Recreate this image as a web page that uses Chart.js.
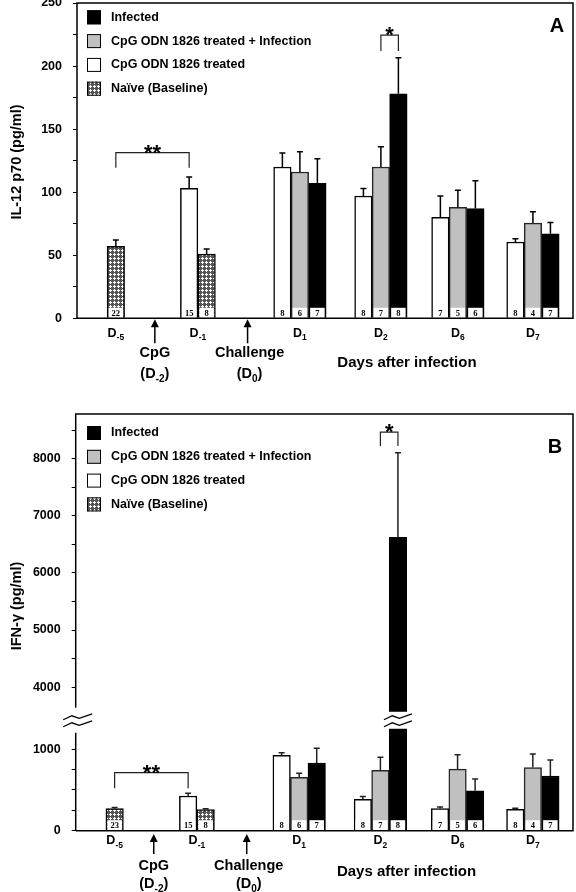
<!DOCTYPE html>
<html lang="en">
<head>
<meta charset="UTF-8">
<title>IL-12 p70 and IFN-gamma after CpG ODN 1826</title>
<script src="https://cdn.jsdelivr.net/npm/chart.js"></script>
<style>
  body { margin: 0; background: #fff; }
  canvas { display: block; }
</style>
</head>
<body>
<canvas id="chartA" width="576" height="400"></canvas>
<canvas id="chartB" width="576" height="492"></canvas>
<script>
// ---- data ----
const days = ['D-5', 'D-1', 'D1', 'D2', 'D6', 'D7'];
const eventNames = ['CpG', 'Challenge'];
const eventDays = ['D-2', 'D0'];

// Panel A: IL-12 p70 (pg/ml), mean, SEM and n per group
const il12Cpg      = [null, 103, 120, 97, 80, 60.5];
const il12CpgErr   = [null, 9, 11, 6, 17, 2.5];
const il12CpgInf   = [null, null, 116, 120, 88, 75.5];
const il12CpgInfErr= [null, null, 16, 16, 13.5, 9];
const il12Inf      = [null, null, 107, 178, 87, 67];
const il12InfErr   = [null, null, 19.5, 28.5, 22, 9];
const il12Naive    = [57, 51, null, null, null, null];
const il12NaiveErr = [5, 4, null, null, null, null];
const il12TickLabels = [0, 50, 100, 150, 200, 250];

// Panel B: IFN-gamma (pg/ml)
const ifnCpg       = [null, 425, 925, 385, 270, 263];
const ifnCpgErr    = [null, 35, 30, 33, 20, 12];
const ifnCpgInf    = [null, null, 655, 740, 755, 775];
const ifnCpgInfErr = [null, null, 50, 160, 175, 165];
const ifnInf       = [null, null, 830, 6620, 490, 670];
const ifnInfErr    = [null, null, 180, 1480, 145, 195];
const ifnNaive     = [270, 258, null, null, null, null];
const ifnNaiveErr  = [15, 12, null, null, null, null];
const ifnTicks = [0, 250, 500, 750, 1000, 4000, 4500, 5000, 5500, 6000, 6500, 7000, 7500, 8000, 8500];
const ifnTickLabels = [0, 1000, 4000, 5000, 6000, 7000, 8000];

// group sizes (n)
const nCpg    = [null, 15, 8, 8, 7, 8];
const nCpgInf = [null, null, 6, 7, 5, 4];
const nInf    = [null, null, 7, 8, 6, 7];
const nNaiveA = [22, 8, null, null, null, null];
const nNaiveB = [23, 8, null, null, null, null];

// ---- layout ----
const FONT = 'Arial, "Liberation Sans", Helvetica, sans-serif';
const SERIF = '"Times New Roman", "Liberation Serif", serif';
const X_MAX = 28.35;              // x axis in bar widths
const slot = { 'D-5': 2.22, 'D-2': 4.45, 'D-1': 6.91, 'D0': 9.75, 'D1': 12.74, 'D2': 17.37, 'D6': 21.77, 'D7': 26.06 };
const DAYS_TITLE_X = 18.86;
const BRK = { lowMax: 1200, highMin: 3640, max: 8780, gap: 25, lowFrac: 0.25 };

const names = {
  inf: 'Infected',
  cpgInf: 'CpG ODN 1826 treated + Infection',
  cpg: 'CpG ODN 1826 treated',
  naive: 'Naïve (Baseline)'
};
const order = ['cpg', 'cpgInf', 'inf', 'naive'];
const legendOrder = ['inf', 'cpgInf', 'cpg', 'naive'];

function makeHatch() {
  const c = document.createElement('canvas');
  c.width = 4; c.height = 4;
  const g = c.getContext('2d');
  g.fillStyle = '#555';
  g.fillRect(0, 0, 4, 4);
  g.fillStyle = '#fff';
  [[2, 1], [1, 2], [2, 2], [3, 2], [2, 3]].forEach(([x, y]) => g.fillRect(x, y, 1, 1));
  return g.createPattern(c, 'repeat');
}
const hatch = makeHatch();

const styles = {
  cpg: { bg: '#ffffff', border: '#000' },
  cpgInf: { bg: '#c0c0c0', border: '#262626' },
  inf: { bg: '#000000', border: '#000' },
  naive: { bg: hatch, border: '#000' }
};

// y scale with a break between lowMax and highMin
class BrokenScale extends Chart.LinearScale {
  buildTicks() {
    return ifnTicks.map(v => ({ value: v }));
  }
  getPixelForValue(value) {
    const h = this.bottom - this.top - BRK.gap;
    const lowH = h * BRK.lowFrac, highH = h - lowH;
    const lowTop = this.bottom - lowH, highBottom = this.top + highH;
    if (value <= BRK.lowMax) return this.bottom - value / BRK.lowMax * lowH;
    if (value >= BRK.highMin) return highBottom - (value - BRK.highMin) / (this.max - BRK.highMin) * highH;
    return lowTop - (value - BRK.lowMax) / (BRK.highMin - BRK.lowMax) * BRK.gap;
  }
}
BrokenScale.id = 'broken';
BrokenScale.defaults = Chart.LinearScale.defaults;
Chart.register(BrokenScale);

function buildDatasets(p) {
  return order.map(key => {
    const data = [];
    days.forEach((d, gi) => {
      const v = p.values[key][gi];
      if (v == null) return;
      const present = order.filter(k => p.values[k][gi] != null);
      const k = present.indexOf(key);
      data.push({ x: slot[d] + k - (present.length - 1) / 2, y: v, err: p.errors[key][gi], n: p.counts[key][gi], day: d });
    });
    return {
      key, label: names[key], data,
      backgroundColor: styles[key].bg,
      borderColor: styles[key].border,
      borderWidth: 1.5,
      grouped: false,
      barPercentage: 1,
      categoryPercentage: 1,
      maxBarThickness: 17.5
    };
  });
}

function drawSub(ctx, parts, cx, base, size, subSize, drop) {
  let w = 0;
  parts.forEach(([t, s]) => { ctx.font = `bold ${s ? subSize : size}px ${FONT}`; w += ctx.measureText(t).width; });
  let x = cx - w / 2;
  ctx.textAlign = 'left';
  ctx.textBaseline = 'alphabetic';
  parts.forEach(([t, s]) => {
    ctx.font = `bold ${s ? subSize : size}px ${FONT}`;
    ctx.fillText(t, x, base + (s ? drop : 0));
    x += ctx.measureText(t).width;
  });
}

function zigzag(ctx, cx, cy, hw) {
  [-3.5, 3.5].forEach(dy => {
    ctx.beginPath();
    ctx.moveTo(cx - hw, cy + dy + 3);
    ctx.lineTo(cx - hw * 0.4, cy + dy - 1);
    ctx.lineTo(cx + hw * 0.1, cy + dy + 1.5);
    ctx.lineTo(cx + hw, cy + dy - 3);
    ctx.stroke();
  });
}

function decor(cfg) {
  return {
    id: 'decor' + cfg.letter,
    afterDatasetsDraw(chart) {
      const ctx = chart.ctx, area = chart.chartArea;
      const xs = chart.scales.x, ys = chart.scales.y;
      ctx.save();

      // n boxes and error bars
      chart.data.datasets.forEach((ds, i) => {
        const meta = chart.getDatasetMeta(i);
        meta.data.forEach((el, j) => {
          const p = ds.data[j];
          const half = el.width / 2;
          ctx.fillStyle = '#fff';
          ctx.fillRect(el.x - half + 1.5, el.base - 10, el.width - 3, 10);
          ctx.fillStyle = '#000';
          ctx.font = `bold 8.5px ${SERIF}`;
          ctx.textAlign = 'center';
          ctx.textBaseline = 'alphabetic';
          ctx.fillText(String(p.n), el.x, el.base - 2);

          const ey = ys.getPixelForValue(p.y + p.err);
          ctx.strokeStyle = cfg.errColor;
          ctx.lineWidth = 1.5;
          ctx.beginPath();
          ctx.moveTo(el.x, el.y);
          ctx.lineTo(el.x, ey);
          ctx.moveTo(el.x - 3, ey);
          ctx.lineTo(el.x + 3, ey);
          ctx.stroke();

          // break through tall bars
          if (cfg.broken && p.y > BRK.lowMax) {
            const g1 = ys.getPixelForValue(BRK.highMin) + 4, g2 = ys.getPixelForValue(BRK.lowMax) - 4;
            ctx.fillStyle = '#fff';
            ctx.fillRect(el.x - half - 1, g1, el.width + 2, g2 - g1);
            ctx.strokeStyle = '#000';
            ctx.lineWidth = 1.3;
            zigzag(ctx, el.x, (g1 + g2) / 2, 14);
          }
        });
      });

      // frame
      ctx.strokeStyle = '#000';
      ctx.lineWidth = 1.5;
      ctx.beginPath();
      ctx.moveTo(area.left, area.bottom);
      ctx.lineTo(area.right, area.bottom);
      ctx.lineTo(area.right, area.top);
      ctx.lineTo(area.left, area.top);
      if (cfg.broken) {
        const hb = ys.getPixelForValue(BRK.highMin), lt = ys.getPixelForValue(BRK.lowMax);
        ctx.lineTo(area.left, hb);
        ctx.moveTo(area.left, lt);
        ctx.lineTo(area.left, area.bottom);
        ctx.stroke();
        ctx.lineWidth = 1.3;
        zigzag(ctx, area.left + 2, (hb + lt) / 2, 14.5);
      } else {
        ctx.closePath();
        ctx.stroke();
      }

      // legend
      legendOrder.forEach((key, r) => {
        const cy = cfg.legendY + r * cfg.legendStep;
        ctx.fillStyle = styles[key].bg;
        ctx.fillRect(87, cy - 7, 14, 14);
        ctx.strokeStyle = '#000';
        ctx.lineWidth = 1;
        ctx.strokeRect(87.5, cy - 6.5, 13, 13);
        ctx.fillStyle = '#000';
        ctx.font = `bold 12.5px ${FONT}`;
        ctx.textAlign = 'left';
        ctx.textBaseline = 'middle';
        ctx.fillText(names[key], 111, cy);
      });

      // panel letter
      ctx.font = `bold 20px ${FONT}`;
      ctx.textAlign = 'center';
      ctx.textBaseline = 'middle';
      ctx.fillText(cfg.letter, area.right - cfg.letterDx, area.top + cfg.letterDy);

      // y title
      ctx.save();
      ctx.translate(17, cfg.titleY);
      ctx.rotate(-Math.PI / 2);
      ctx.font = `bold 14.5px ${FONT}`;
      ctx.textAlign = 'center';
      ctx.textBaseline = 'middle';
      ctx.fillText(cfg.title, 0, 0);
      ctx.restore();

      // day labels
      ctx.fillStyle = '#000';
      days.forEach(d => {
        drawSub(ctx, [['D', 0], [d.slice(1), 1]], xs.getPixelForValue(slot[d]), area.bottom + cfg.tickBase, 12.5, 8.5, 3.5);
      });

      // treatment / challenge arrows
      eventNames.forEach((name, i) => {
        const ax = xs.getPixelForValue(slot[eventDays[i]]);
        const tip = area.bottom + cfg.arrowTip;
        ctx.beginPath();
        ctx.moveTo(ax, tip);
        ctx.lineTo(ax - 4, tip + 8);
        ctx.lineTo(ax + 4, tip + 8);
        ctx.closePath();
        ctx.fill();
        ctx.lineWidth = 1.5;
        ctx.beginPath();
        ctx.moveTo(ax, tip + 6);
        ctx.lineTo(ax, area.bottom + cfg.arrowEnd);
        ctx.stroke();
        drawSub(ctx, [[name, 0]], ax + (i ? 2 : 0), area.bottom + cfg.eventBase, 14.5, 10, 4);
        drawSub(ctx, [['(D', 0], [eventDays[i].slice(1), 1], [')', 0]], ax + (i ? 2 : 0), area.bottom + cfg.eventBase2, 14.5, 10, 4);
      });

      drawSub(ctx, [['Days after infection', 0]], xs.getPixelForValue(DAYS_TITLE_X), area.bottom + cfg.daysBase, 15, 10, 0);

      // significance brackets
      const barX = (key, day) => {
        const i = chart.data.datasets.findIndex(ds => ds.key === key);
        const j = chart.data.datasets[i].data.findIndex(p => p.day === day);
        return chart.getDatasetMeta(i).data[j].x;
      };
      cfg.brackets.forEach(b => {
        const x1 = barX(b.from[0], b.from[1]), x2 = barX(b.to[0], b.to[1]);
        const yt = ys.getPixelForValue(b.top), yl = ys.getPixelForValue(b.leg);
        ctx.strokeStyle = '#222';
        ctx.lineWidth = 1.2;
        ctx.beginPath();
        ctx.moveTo(x1, yl);
        ctx.lineTo(x1, yt);
        ctx.lineTo(x2, yt);
        ctx.lineTo(x2, yl);
        ctx.stroke();
        ctx.fillStyle = '#000';
        ctx.font = `bold 22px ${FONT}`;
        ctx.textAlign = 'center';
        ctx.textBaseline = 'alphabetic';
        ctx.fillText(b.text, (x1 + x2) / 2, yt + 7);
      });

      ctx.restore();
    }
  };
}

function makeChart(id, panel, yScale, cfg, pad, xHeight, yWidth) {
  return new Chart(document.getElementById(id), {
    type: 'bar',
    data: { datasets: buildDatasets(panel) },
    options: {
      responsive: false,
      animation: false,
      devicePixelRatio: 1,
      layout: { padding: pad },
      plugins: { legend: { display: false }, tooltip: { enabled: false } },
      scales: {
        x: {
          type: 'linear', min: 0, max: X_MAX, offset: false,
          ticks: { display: false }, grid: { display: false }, border: { display: false },
          afterFit: s => { s.height = xHeight; s.paddingLeft = 0; s.paddingRight = 0; }
        },
        y: {
          type: yScale.type, min: 0, max: yScale.max,
          ticks: Object.assign({
            autoSkip: false, padding: 11, color: '#000',
            font: { family: FONT, size: 12.5, weight: 'bold' },
            callback: v => cfg.tickLabels.includes(v) ? String(v) : ''
          }, yScale.ticks || {}),
          grid: { drawOnChartArea: false, drawTicks: true, tickLength: 4, color: '#000', lineWidth: 1 },
          border: { display: false },
          afterFit: s => { s.width = yWidth; s.paddingTop = 0; s.paddingBottom = 0; }
        }
      }
    },
    plugins: [decor(cfg)]
  });
}

const panelA = {
  values: { cpg: il12Cpg, cpgInf: il12CpgInf, inf: il12Inf, naive: il12Naive },
  errors: { cpg: il12CpgErr, cpgInf: il12CpgInfErr, inf: il12InfErr, naive: il12NaiveErr },
  counts: { cpg: nCpg, cpgInf: nCpgInf, inf: nInf, naive: nNaiveA }
};
const panelB = {
  values: { cpg: ifnCpg, cpgInf: ifnCpgInf, inf: ifnInf, naive: ifnNaive },
  errors: { cpg: ifnCpgErr, cpgInf: ifnCpgInfErr, inf: ifnInfErr, naive: ifnNaiveErr },
  counts: { cpg: nCpg, cpgInf: nCpgInf, inf: nInf, naive: nNaiveB }
};

makeChart('chartA', panelA,
  { type: 'linear', max: 250, ticks: { stepSize: 25 } },
  {
    letter: 'A', title: 'IL-12 p70 (pg/ml)', titleY: 162, tickLabels: il12TickLabels,
    errColor: '#000', broken: false,
    legendY: 17.3, legendStep: 23.8, letterDx: 16, letterDy: 23,
    tickBase: 18.4, arrowTip: 1, arrowEnd: 25, eventBase: 39, eventBase2: 60, daysBase: 49,
    brackets: [
      { from: ['naive', 'D-5'], to: ['cpg', 'D-1'], top: 131.4, leg: 119.4, text: '**' },
      { from: ['cpgInf', 'D2'], to: ['inf', 'D2'], top: 224.5, leg: 212, text: '*' }
    ]
  },
  { top: 3, right: 3, left: 0, bottom: 0 }, 81.7, 77);

makeChart('chartB', panelB,
  { type: 'broken', max: BRK.max },
  {
    letter: 'B', title: 'IFN-γ (pg/ml)', titleY: 206, tickLabels: ifnTickLabels,
    errColor: '#222', broken: true,
    legendY: 33, legendStep: 23.8, letterDx: 18, letterDy: 33,
    tickBase: 13.6, arrowTip: 3.3, arrowEnd: 23.3, eventBase: 39.5, eventBase2: 57, daysBase: 45,
    brackets: [
      { from: ['naive', 'D-5'], to: ['cpg', 'D-1'], top: 712, leg: 521, text: '**' },
      { from: ['cpgInf', 'D2'], to: ['inf', 'D2'], top: 8463, leg: 8218, text: '*' }
    ]
  },
  { top: 14, right: 3, left: 0, bottom: 0 }, 61.3, 75.7);
</script>
</body>
</html>
